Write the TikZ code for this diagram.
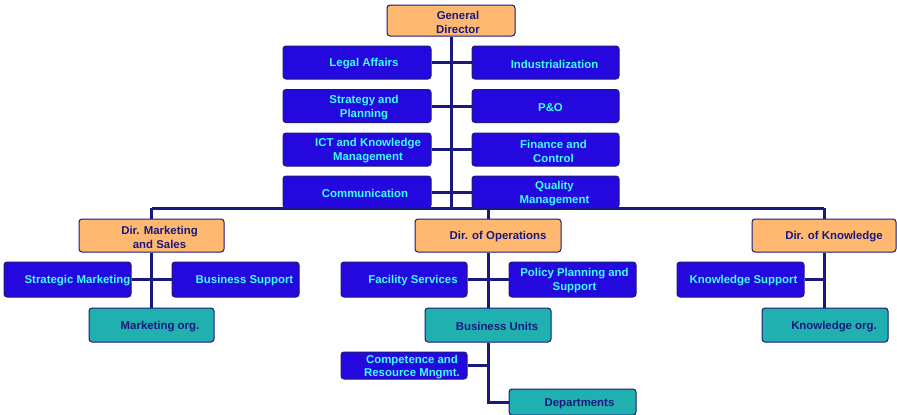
\documentclass[tikz,border=0pt]{standalone}
\usepackage{fontspec}
\setmainfont{Liberation Sans}
\usetikzlibrary{backgrounds}
\definecolor{boxblue}{RGB}{36,8,222}
\definecolor{cyantxt}{RGB}{60,255,255}
\definecolor{navy}{RGB}{25,25,125}
\definecolor{orangefill}{RGB}{255,184,112}
\definecolor{tealfill}{RGB}{32,176,176}
\tikzset{
  box/.style={draw=navy, line width=1pt, rounded corners=3pt, inner sep=0pt},
  bluebox/.style={box, fill=boxblue},
  orangebox/.style={box, fill=orangefill},
  tealbox/.style={box, fill=tealfill},
  lt/.style={font=\fontsize{11.4}{14}\selectfont\bfseries, align=center, inner sep=0pt, yshift=-1.5},
  cy/.style={lt, text=cyantxt},
  nv/.style={lt, text=navy},
  conn/.style={draw=navy, line width=3pt},
}
\begin{document}
\begin{tikzpicture}[x=1pt,y=-1pt]
\useasboundingbox (0,0) rectangle (897,415);
\clip (0,0) rectangle (897,415);
% top
\node[orangebox, minimum width=128, minimum height=31, label={[nv,xshift=7]center:General\\Director}] (gd) at (451,20.5) {};
\node[bluebox, minimum width=148, minimum height=33, label={[cy,xshift=7]center:Legal Affairs}] (la) at (357,62.5) {};
\node[bluebox, minimum width=147, minimum height=33, label={[cy,xshift=9]center:Industrialization}] (ind) at (545.5,62.5) {};
\node[bluebox, minimum width=148, minimum height=33, label={[cy,xshift=7]center:Strategy and\\Planning}] (sp) at (357,106) {};
\node[bluebox, minimum width=147, minimum height=33, label={[cy,xshift=5]center:P\&O}] (po) at (545.5,106) {};
\node[bluebox, minimum width=148, minimum height=33, label={[cy,xshift=11]center:ICT and Knowledge\\Management}] (ict) at (357,149.5) {};
\node[bluebox, minimum width=147, minimum height=33, label={[cy,xshift=8]center:Finance and\\Control}] (fc) at (545.5,149.5) {};
\node[bluebox, minimum width=148, minimum height=32, label={[cy,xshift=8]center:Communication}] (com) at (357,192) {};
\node[bluebox, minimum width=147, minimum height=32, label={[cy,xshift=9]center:Quality\\Management}] (qm) at (545.5,192) {};
% marketing
\node[orangebox, minimum width=145, minimum height=33, label={[nv,xshift=8]center:Dir. Marketing\\and Sales}] (dms) at (151.5,235.5) {};
\node[bluebox, minimum width=127, minimum height=35, label={[cy,xshift=10]center:Strategic Marketing}] (sm) at (67.5,279.5) {};
\node[bluebox, minimum width=127, minimum height=35, label={[cy,xshift=9]center:Business Support}] (bs) at (235.5,279.5) {};
\node[tealbox, minimum width=125, minimum height=34, label={[nv,xshift=8.5]center:Marketing org.}] (mo) at (151.5,325) {};
% operations
\node[orangebox, minimum width=146, minimum height=33, label={[nv,xshift=10]center:Dir. of Operations}] (do) at (488,235.5) {};
\node[bluebox, minimum width=126, minimum height=35, label={[cy,xshift=9]center:Facility Services}] (fs) at (404,279.5) {};
\node[bluebox, minimum width=127, minimum height=35, label={[cy,xshift=2]center:Policy Planning and\\Support}] (pps) at (572.5,279.5) {};
\node[tealbox, minimum width=126, minimum height=34, label={[nv,xshift=9]center:Business Units}] (bu) at (488,325) {};
\node[bluebox, minimum width=126, minimum height=27, label={[cy,xshift=8,font=\fontsize{11.4}{13}\selectfont\bfseries]center:Competence and\\Resource Mngmt.}] (crm) at (404,365.5) {};
\node[tealbox, minimum width=127, minimum height=26, label={[nv,xshift=7]center:Departments}] (dep) at (572.5,402) {};
% knowledge
\node[orangebox, minimum width=144, minimum height=33, label={[nv,xshift=10]center:Dir. of Knowledge}] (dk) at (824,235.5) {};
\node[bluebox, minimum width=127, minimum height=35, label={[cy,xshift=3]center:Knowledge Support}] (ks) at (740.5,279.5) {};
\node[tealbox, minimum width=126, minimum height=34, label={[nv,xshift=9]center:Knowledge org.}] (ko) at (825,325) {};
\coordinate (barL) at (151.5,208);
\coordinate (barR) at (824,208);
\begin{scope}[on background layer]
\draw[conn] (gd.south) -- (gd.south |- barL);
\draw[conn] (barL) -- (barR);
\draw[conn] (la.east) -- (ind.west);
\draw[conn] (sp.east) -- (po.west);
\draw[conn] (ict.east) -- (fc.west);
\draw[conn] (com.east) -- (qm.west);
\draw[conn] (barL) -- (dms.north);
\draw[conn] (do.north |- barL) -- (do.north);
\draw[conn] (barR) -- (dk.north);
\draw[conn] (dms.south) -- (mo.north);
\draw[conn] (sm.east) -- (bs.west);
\draw[conn] (do.south) -- (bu.north);
\draw[conn] (fs.east) -- (pps.west);
\draw[conn] (bu.south) |- (dep.west);
\draw[conn] (crm.east) -- (crm.east -| bu.south);
\draw[conn] (dk.south) -- (dk.south |- ko.north);
\draw[conn] (ks.east) -- (ks.east -| dk.south);
\end{scope}
\end{tikzpicture}
\end{document}
